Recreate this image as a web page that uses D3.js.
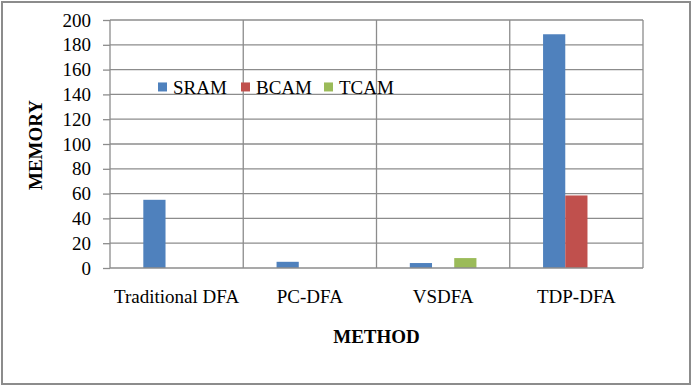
<!DOCTYPE html>
<html>
<head>
<meta charset="utf-8">
<script src="https://cdn.jsdelivr.net/npm/d3@7"></script>
<style>
body { margin: 0; background: #fff; }
svg text { font-family: "Liberation Serif", "Times New Roman", serif; fill: #000; }
</style>
</head>
<body>
<svg id="chart" width="695" height="392"></svg>
<script>
var categories = ['Traditional DFA', 'PC-DFA', 'VSDFA', 'TDP-DFA'];
var seriesNames = ['SRAM', 'BCAM', 'TCAM'];
var sramValues = [55, 5, 4, 188.5];
var bcamValues = [0, 0, 0, 58.5];
var tcamValues = [0, 0, 8, 0];
var yTicks = [0, 20, 40, 60, 80, 100, 120, 140, 160, 180, 200];
var colors = ['#4F81BD', '#C0504D', '#9BBB59'];
var serif = '"Liberation Serif", "Times New Roman", serif';

var svg = d3.select('#chart'),
	margin = { top: 20, right: 52, bottom: 124, left: 110 },
	width = +svg.attr('width') - margin.left - margin.right,
	height = +svg.attr('height') - margin.top - margin.bottom;

// outer frame
svg.append('rect')
	.attr('x', 2).attr('y', 2)
	.attr('width', 688).attr('height', 382)
	.attr('fill', 'none')
	.attr('stroke', '#8c8c8c')
	.attr('stroke-width', 2);

var g = svg.append('g').attr('transform', 'translate(' + margin.left + ',' + margin.top + ')');

var data = categories.map(function (c, i) {
	return { cat: c, values: [sramValues[i], bcamValues[i], tcamValues[i]] };
});

var scaleX = d3.scaleBand().domain(categories).range([0, width]);
var scaleSeries = d3.scaleBand().domain(seriesNames)
	.range([0, scaleX.bandwidth()]).paddingOuter(1.5).paddingInner(0);
var scaleY = d3.scaleLinear().domain([0, 200]).range([height, 0]);

// horizontal gridlines
g.append('g').selectAll('line')
	.data(yTicks.slice(1))
	.enter().append('line')
	.attr('x1', 0).attr('x2', width)
	.attr('y1', function (d) { return scaleY(d); })
	.attr('y2', function (d) { return scaleY(d); })
	.attr('stroke', '#8c8c8c').attr('stroke-width', 1.3);

// vertical category gridlines
g.append('g').selectAll('line')
	.data(categories.slice(1).concat(['end']))
	.enter().append('line')
	.attr('x1', function (d, i) { return i < 3 ? scaleX(d) : width; })
	.attr('x2', function (d, i) { return i < 3 ? scaleX(d) : width; })
	.attr('y1', 0).attr('y2', height)
	.attr('stroke', '#8c8c8c').attr('stroke-width', 1.3);

// legend (no background, lies over gridlines)
var legendX = [48, 131, 214];
var legend = g.append('g').attr('transform', 'translate(0,' + (scaleY(146)) + ')');
seriesNames.forEach(function (s, i) {
	legend.append('rect')
		.attr('x', legendX[i]).attr('y', -4.5)
		.attr('width', 9).attr('height', 9)
		.attr('fill', colors[i]);
	legend.append('text')
		.attr('x', legendX[i] + 15).attr('y', 0)
		.attr('dy', '0.35em')
		.style('font-family', serif)
		.style('font-size', '19px')
		.text(s);
});

// bars
var groups = g.append('g').selectAll('g')
	.data(data)
	.enter().append('g')
	.attr('transform', function (d) { return 'translate(' + scaleX(d.cat) + ',0)'; });

groups.selectAll('rect')
	.data(function (d) { return d.values.map(function (v, j) { return { s: seriesNames[j], v: v, c: colors[j] }; }); })
	.enter().filter(function (d) { return d.v > 0; }).append('rect')
	.attr('x', function (d) { return scaleSeries(d.s); })
	.attr('width', scaleSeries.bandwidth())
	.attr('y', function (d) { return scaleY(d.v); })
	.attr('height', function (d) { return height - scaleY(d.v); })
	.attr('fill', function (d) { return d.c; });

// y axis
var yAxis = g.append('g')
	.call(d3.axisLeft(scaleY).tickValues(yTicks).tickSize(7).tickPadding(12))
	.attr('font-family', serif);
yAxis.selectAll('text').style('font-family', serif).style('font-size', '19px').attr('fill', '#000');
yAxis.selectAll('line').attr('stroke', '#8c8c8c').attr('stroke-width', 1.3);
yAxis.select('.domain').attr('stroke', '#8c8c8c').attr('stroke-width', 1.3)
	.attr('d', 'M0,0V' + height);

// x axis
var xAxis = g.append('g')
	.attr('transform', 'translate(0,' + height + ')')
	.call(d3.axisBottom(scaleX).tickSize(0).tickPadding(22))
	.attr('font-family', serif);
xAxis.selectAll('text').style('font-family', serif).style('font-size', '19px').attr('fill', '#000');
xAxis.select('.domain').attr('stroke', '#8c8c8c').attr('stroke-width', 1.3)
	.attr('d', 'M0,0H' + width);

// axis titles
svg.append('text')
	.attr('x', margin.left + width / 2)
	.attr('y', 336)
	.attr('dy', '0.35em')
	.attr('text-anchor', 'middle')
	.style('font-family', serif)
	.style('font-size', '19px')
	.style('font-weight', 'bold')
	.text('METHOD');

svg.append('text')
	.attr('transform', 'translate(35,145) rotate(-90)')
	.attr('dy', '0.35em')
	.attr('text-anchor', 'middle')
	.style('font-family', serif)
	.style('font-size', '19px')
	.style('font-weight', 'bold')
	.text('MEMORY');
</script>
</body>
</html>
